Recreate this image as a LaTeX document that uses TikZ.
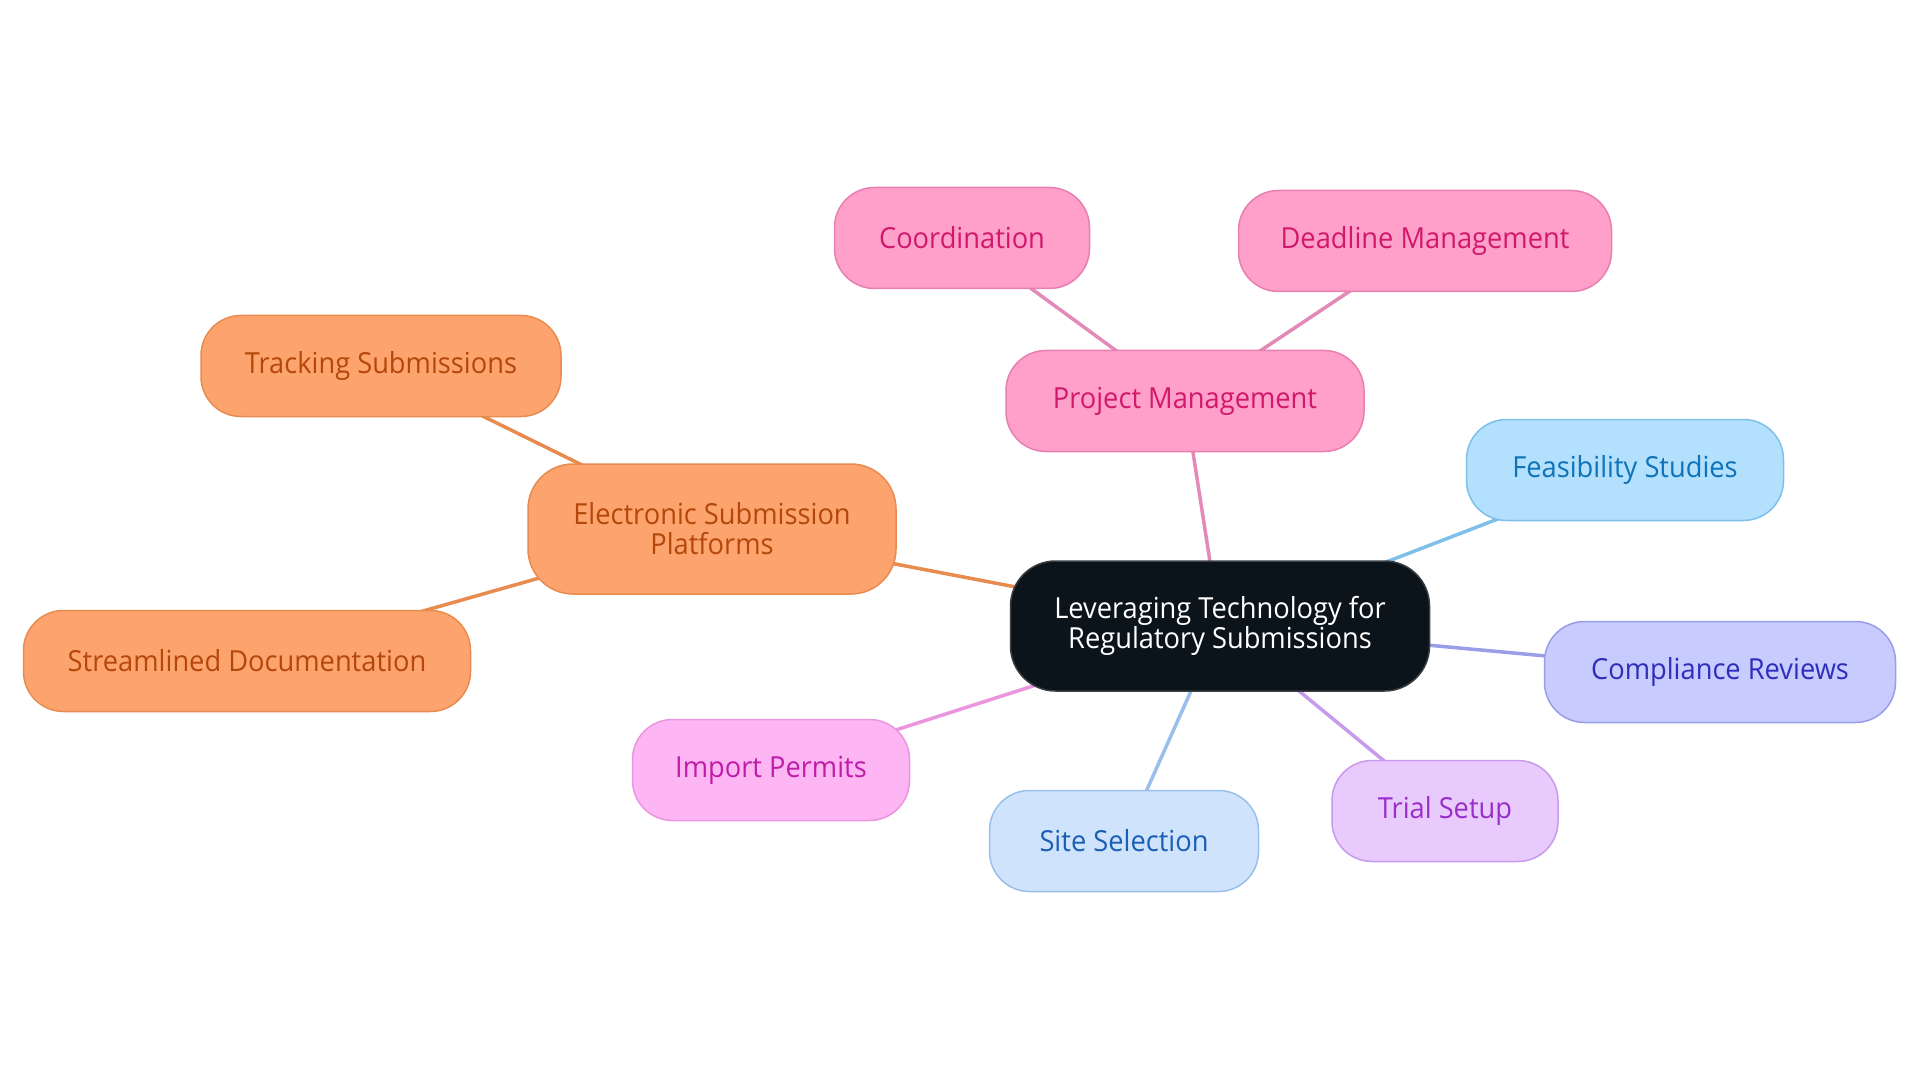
\documentclass[tikz,border=0pt]{standalone}
\usepackage{fontspec}
\setmainfont{Open Sans}[FakeStretch=0.94]
\usetikzlibrary{backgrounds}
\definecolor{cdark}{HTML}{0B141B}
\definecolor{cdarkb}{HTML}{3A3F44}
\definecolor{orF}{HTML}{FDA46E}
\definecolor{orB}{HTML}{E88B4E}
\definecolor{orT}{HTML}{B4470A}
\definecolor{pkF}{HTML}{FFA0CB}
\definecolor{pkB}{HTML}{E77FB0}
\definecolor{pkT}{HTML}{D0186C}
\definecolor{pkE}{HTML}{E38AB8}
\definecolor{feF}{HTML}{B3E0FD}
\definecolor{feB}{HTML}{7EC0EA}
\definecolor{feT}{HTML}{0E73B8}
\definecolor{coF}{HTML}{C8CBFD}
\definecolor{coB}{HTML}{9A9EE8}
\definecolor{coT}{HTML}{2E2EBA}
\definecolor{trF}{HTML}{E8CAFC}
\definecolor{trB}{HTML}{C79AEB}
\definecolor{trT}{HTML}{9A2EC8}
\definecolor{siF}{HTML}{CFE4FC}
\definecolor{siB}{HTML}{98C0EA}
\definecolor{siT}{HTML}{1A5FB4}
\definecolor{imF}{HTML}{FDB6F3}
\definecolor{imB}{HTML}{EB95DE}
\definecolor{imT}{HTML}{C01CA8}
\tikzset{
  box/.style={rounded corners=40pt, line width=1.5pt, minimum height=101pt, inner sep=0pt,
    font=\fontsize{29}{30}\selectfont, align=center},
  link/.style={line width=3.5pt},
}
\begin{document}
\begin{tikzpicture}[x=1pt,y=-1pt]
\useasboundingbox (0,0) rectangle (1920,1083);
\node[box, fill=cdark, draw=cdarkb, text=white, minimum width=419pt, minimum height=130pt, rounded corners=45pt] (root) at (1220,626) {Leveraging Technology for\\Regulatory Submissions};
\node[box, fill=pkF, draw=pkB, text=pkT, minimum width=358pt] (pm) at (1185,401) {Project Management};
\node[box, fill=pkF, draw=pkB, text=pkT, minimum width=255pt] (coord) at (962,238) {Coordination};
\node[box, fill=pkF, draw=pkB, text=pkT, minimum width=373pt] (dead) at (1425,241) {Deadline Management};
\node[box, fill=feF, draw=feB, text=feT, minimum width=317pt] (feas) at (1625,470) {Feasibility Studies};
\node[box, fill=coF, draw=coB, text=coT, minimum width=351pt] (comp) at (1720,672) {Compliance Reviews};
\node[box, fill=trF, draw=trB, text=trT, minimum width=226pt] (trial) at (1445,811) {Trial Setup};
\node[box, fill=siF, draw=siB, text=siT, minimum width=269pt] (site) at (1124,841) {Site Selection};
\node[box, fill=imF, draw=imB, text=imT, minimum width=277pt] (imp) at (771,770) {Import Permits};
\node[box, fill=orF, draw=orB, text=orT, minimum width=368pt, minimum height=130pt, rounded corners=45pt] (esp) at (712,529) {Electronic Submission\\Platforms};
\node[box, fill=orF, draw=orB, text=orT, minimum width=360pt] (track) at (381,366) {Tracking Submissions};
\node[box, fill=orF, draw=orB, text=orT, minimum width=447pt] (stream) at (247,661) {Streamlined Documentation};
\begin{scope}[on background layer]
\draw[link, pkE] (root.center) -- (pm.center);
\draw[link, pkE] (pm.center) -- (coord.center);
\draw[link, pkE] (pm.center) -- (dead.center);
\draw[link, feB] (root.center) -- (feas.center);
\draw[link, coB] (root.center) -- (comp.center);
\draw[link, trB] (root.center) -- (trial.center);
\draw[link, siB] (root.center) -- (site.center);
\draw[link, imB] (root.center) -- (imp.center);
\draw[link, orB] (root.center) -- (esp.center);
\draw[link, orB] (esp.center) -- (track.center);
\draw[link, orB] (esp.center) -- (stream.center);
\end{scope}
\end{tikzpicture}
\end{document}
